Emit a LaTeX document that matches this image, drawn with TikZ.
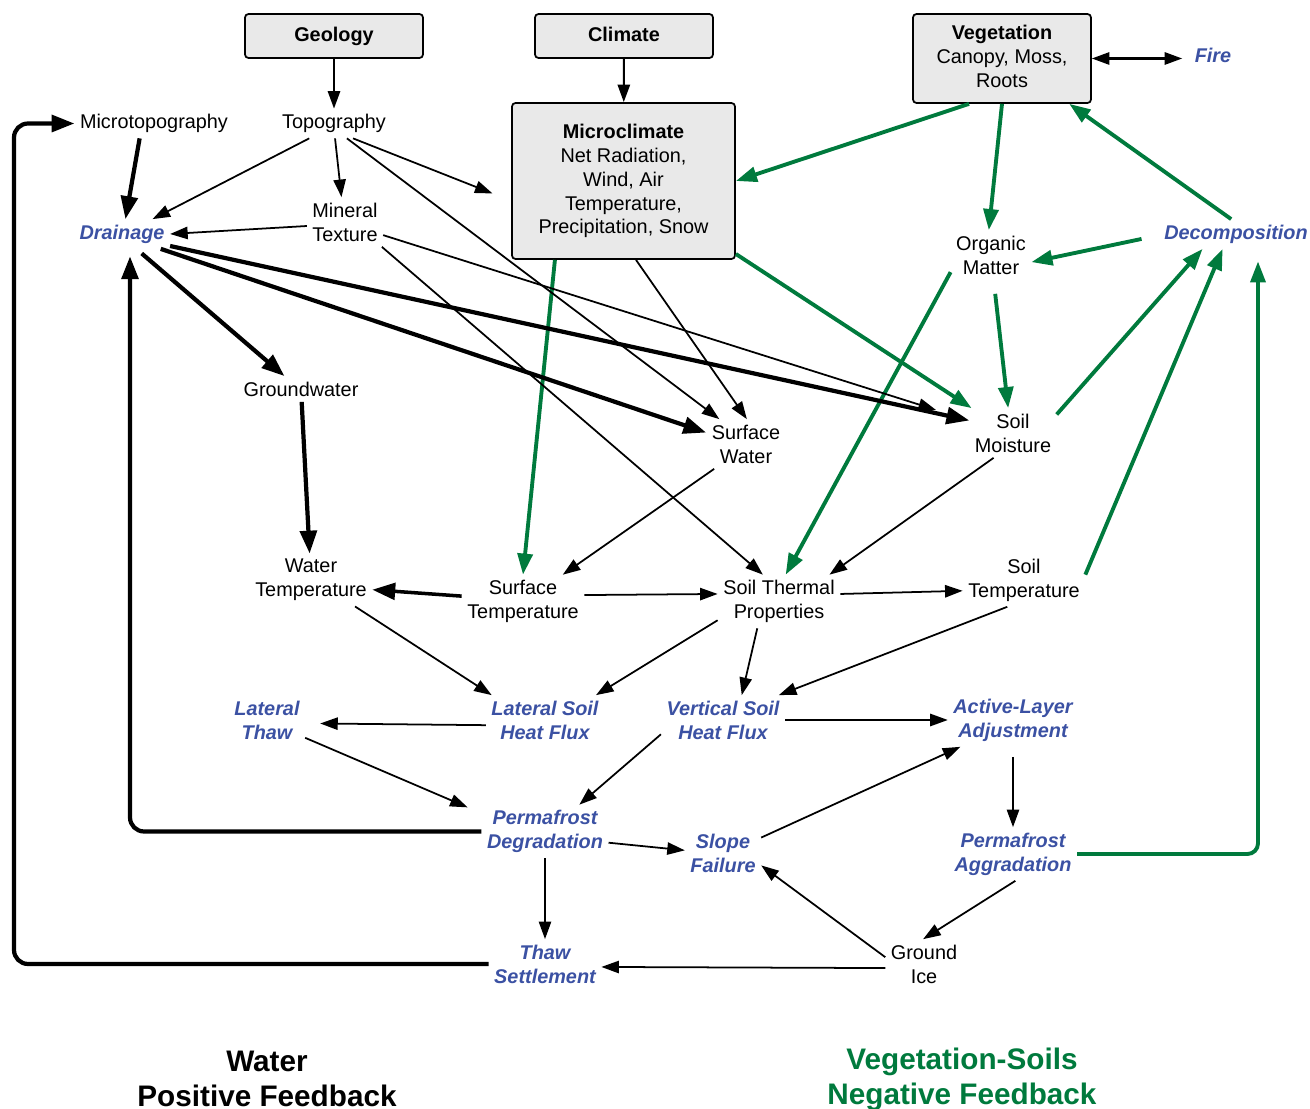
\documentclass[tikz,border=0pt]{standalone}
\usepackage{fontspec}
\setmainfont{Liberation Sans}
\usetikzlibrary{arrows.meta}
\definecolor{labelBlue}{RGB}{59,81,163}
\definecolor{loopGreen}{RGB}{0,122,61}
\definecolor{boxGray}{RGB}{233,233,233}

\tikzset{
  factor/.style={font=\fontsize{11.3}{13.6}\selectfont, align=center, inner sep=3pt},
  process/.style={factor, text=labelBlue, font=\fontsize{11.3}{13.6}\selectfont\bfseries\itshape},
  driver/.style={factor, draw, line width=1pt, fill=boxGray, rounded corners=2pt, minimum width=3.56cm},
  link/.style={line width=1pt, -{Triangle[length=10pt,width=7pt]}},
  heavy/.style={line width=2.4pt, -{Triangle[length=13pt,width=9.5pt]}},
  veglink/.style={loopGreen, line width=2.2pt, -{Triangle[length=12pt,width=8.5pt]}},
  feedback/.style={font=\fontsize{16.9}{19.8}\selectfont\bfseries, align=center}
}

\begin{document}
\begin{tikzpicture}
  \useasboundingbox (0,0) rectangle (26.2,-22.18);

  % Boxed drivers
  \node[driver, minimum height=0.88cm] (geo) at (6.68,-0.72) {\textbf{Geology}};
  \node[driver, minimum height=0.88cm] (clim) at (12.48,-0.72) {\textbf{Climate}\vphantom{gy}};
  \node[driver, minimum height=1.78cm] (veg) at (20.04,-1.17) {\textbf{Vegetation}\\Canopy, Moss,\\Roots\vphantom{p}};
  \node[driver, minimum width=4.46cm, minimum height=3.12cm] (micro) at (12.47,-3.62)
    {\textbf{Microclimate}\\Net Radiation,\\Wind, Air\\Temperature,\\Precipitation, Snow};

  % Factors and processes
  \node[process] (fire) at (24.26,-1.1) {Fire};
  \node[factor] (mtopo) at (3.08,-2.47) {Microtopography};
  \node[factor] (topo) at (6.68,-2.47) {Topography};
  \node[process] (drain) at (2.44,-4.68) {Drainage};
  \node[factor] (mineral) at (6.9,-4.44) {Mineral\\Texture};
  \node[factor] (organic) at (19.82,-5.1) {Organic\\Matter};
  \node[process] (decomp) at (24.72,-4.68) {Decomposition};
  \node[factor] (ground) at (6.02,-7.78) {Groundwater};
  \node[factor] (surfw) at (14.92,-8.88) {Surface\\Water};
  \node[factor] (soilm) at (20.26,-8.66) {Soil\\Moisture};
  \node[factor] (watert) at (6.22,-11.6) {Water\\Temperature};
  \node[factor] (surft) at (10.46,-12.03) {Surface\\Temperature};
  \node[factor] (stp) at (15.58,-12.03) {Soil Thermal\\Properties};
  \node[factor] (soilt) at (20.48,-11.6) {Soil\\Temperature};
  \node[process] (lthaw) at (5.34,-14.4) {Lateral\\Thaw};
  \node[process] (lflux) at (10.9,-14.4) {Lateral Soil\\Heat Flux};
  \node[process] (vflux) at (14.46,-14.4) {Vertical Soil\\Heat Flux};
  \node[process] (alayer) at (20.26,-14.4) {Active-Layer\\Adjustment};
  \node[process] (pdeg) at (10.9,-16.63) {Permafrost\\Degradation};
  \node[process] (slope) at (14.46,-17.06) {Slope\\Failure};
  \node[process] (pagg) at (20.26,-17.08) {Permafrost\\Aggradation};
  \node[process] (settle) at (10.9,-19.28) {Thaw\\Settlement};
  \node[factor] (ice) at (18.48,-19.28) {Ground\\Ice};

  \node[feedback] (posfb) at (5.34,-21.58) {Water\\Positive Feedback};
  \node[feedback, text=loopGreen] (negfb) at (19.24,-21.58) {Vegetation-Soils\\Negative Feedback};

  \coordinate (leftedge) at (0.28,0);

  % Drivers
  \draw[link, line width=1.2pt] (geo) -- (topo);
  \draw[link, line width=1.2pt] (clim) -- (micro);
  \draw[line width=1.2pt, {Triangle[length=10pt,width=7pt]}-{Triangle[length=10pt,width=7pt]}, shorten >=0.14cm]
    (veg.east) -- (veg.east -| fire.west);

  % Vegetation-soils links
  \draw[veglink] (veg.-126) -- (micro.east);
  \draw[veglink] (veg.south) -- (organic.95);
  \draw[veglink] (decomp.108) -- (veg.-34);
  \draw[veglink, shorten <=0.35cm] (decomp.181) -- (organic.-10);
  \draw[veglink] (micro.-131) -- (surft.north);
  \draw[veglink] (organic.-157) -- (stp.76);
  \draw[veglink] (micro.-33) -- (soilm.149);
  \draw[veglink, shorten <=8pt] (organic.-84) -- (soilm.101);
  \draw[veglink] (soilm.23) -- (decomp.-156);
  \draw[veglink] (soilt.5) -- (decomp.-132);
  \draw[veglink, rounded corners=6pt, shorten >=0.25cm] (pagg.east) -| ([xshift=0.44cm]decomp.south);

  % Topography and drainage
  \draw[heavy] (mtopo.-134) -- (drain.77);
  \draw[link] (topo.-149) -- (drain.26);
  \draw[link] (topo.-86) -- (mineral.98);
  \draw[link, shorten >=0.4cm] (topo.-38) -- (micro.-170);
  \draw[link] (topo.-49) -- (surfw.137);
  \draw[link] (micro.-81) -- (surfw.88);
  \draw[link] (mineral.-174) -- (drain.east);
  \draw[link] (mineral.-34) -- (stp.121);
  \draw[link, shorten >=0.7cm] (mineral.-19) -- (soilm.164);
  \draw[heavy, shorten <=4pt] (drain.-46) -- (ground.142);
  \draw[heavy] (drain.-21) -- (surfw.164);
  \draw[heavy] (drain.-14) -- (soilm.164);
  \draw[heavy] (ground) -- (watert);

  % Temperatures
  \draw[link] (surfw.-142) -- (surft.34);
  \draw[link] (soilm.-128) -- (stp.28);
  \draw[heavy, line width=2pt] (surft.175) -- (watert.-9);
  \draw[link] (surft.6) -- (stp.173);
  \draw[link] (stp.7) -- (soilt.-170);
  \draw[link] (watert.-31) -- (lflux.155);
  \draw[link] (stp.-163) -- (lflux.26);
  \draw[link] (stp.-129) -- (vflux.53);
  \draw[link] (soilt.-122) -- (vflux.24);

  % Thaw processes
  \draw[link, shorten >=0.3cm] (lflux.185) -- (lthaw.-5);
  \draw[link] (vflux.east) -- (alayer.west);
  \draw[link] (vflux.-167) -- (pdeg.38);
  \draw[link, shorten >=0.3cm] (lthaw.-25) -- (pdeg.164);
  \draw[link] (pdeg.-10) -- (slope.176);
  \draw[link] (slope.22) -- (alayer.-153);
  \draw[link, shorten <=0.2cm] (alayer) -- (pagg);
  \draw[link] (pagg.-85) -- (ice.92);
  \draw[link] (ice.170) -- (slope.-18);
  \draw[link] (ice.-174) -- (settle.-3);
  \draw[link] (pdeg) -- (settle);

  % Water feedback loops
  \draw[heavy, rounded corners=8pt, shorten >=0.15cm] (pdeg.west) -| ([xshift=0.16cm]drain.south);
  \draw[heavy, rounded corners=8pt] (settle.west) -- (settle.west -| leftedge) |- (mtopo.west);
\end{tikzpicture}
\end{document}
